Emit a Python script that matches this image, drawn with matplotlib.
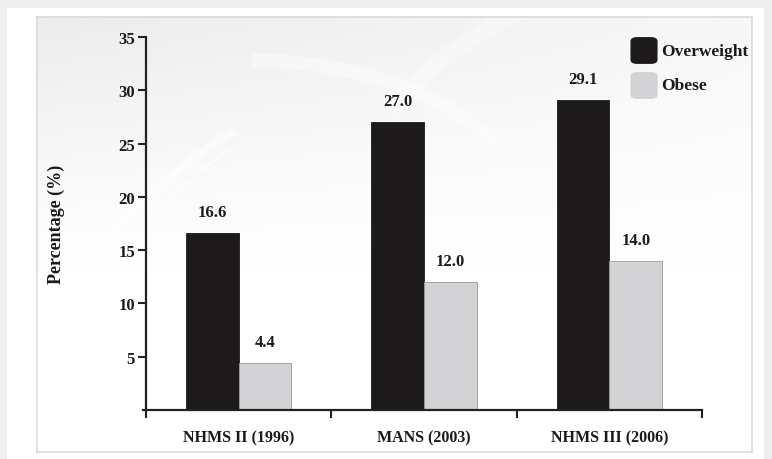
import numpy as np
import matplotlib
matplotlib.use("Agg")
import matplotlib.pyplot as plt
from matplotlib.patches import FancyBboxPatch, Rectangle, Arc

# Survey prevalence data
surveys = ["NHMS II (1996)", "MANS (2003)", "NHMS III (2006)"]
overweight = [16.6, 27.0, 29.1]
obese = [4.4, 12.0, 14.0]
series_names = ["Overweight", "Obese"]
y_ticks = [5, 10, 15, 20, 25, 30, 35]

DARK = "#1c1a1b"
LIGHT = "#d3d3d5"
FONT = "Liberation Serif"
INK = "#1a1a1a"

W, H = 772, 460
fig = plt.figure(figsize=(W / 100, H / 100), dpi=100)
fig.patch.set_facecolor("#efefef")

# outer white card (drawn beneath everything else)
fig.patches.append(Rectangle((7 / W, 0), 757 / W, 451 / H,
                             transform=fig.transFigure, facecolor="white",
                             edgecolor="none", zorder=-5))

# inner panel with soft gradient and faint swirls
bx0, by0, bx1, by1 = 37, 18, 752, 453
bg = fig.add_axes([bx0 / W, 1 - by1 / H, (bx1 - bx0) / W, (by1 - by0) / H],
                  zorder=0)
gx, gy = np.meshgrid(np.linspace(0, 1, 400), np.linspace(1, 0, 300))
tone = np.clip(1.0 - 0.075 * np.clip(1.7 * gy - 0.7, 0, 1) ** 1.2
               * (1 - 0.6 * gx), 0, 1)
bg.imshow(np.dstack([tone, tone, tone]), extent=[0, 1, 0, 1], aspect="auto",
          interpolation="bilinear")
for cx, cy, w, h, t1, t2, lw, a in [(0.62, -0.55, 1.5, 2.9, 105, 165, 6, 0.55),
                                    (0.66, -0.50, 1.5, 2.8, 108, 160, 2, 0.6),
                                    (0.30, 0.50, 0.8, 0.8, 30, 90, 10, 0.4),
                                    (1.05, 0.40, 1.3, 1.5, 100, 145, 12, 0.35)]:
    bg.add_patch(Arc((cx, cy), w, h, theta1=t1, theta2=t2, color="white",
                     lw=lw, alpha=a))
bg.set_xlim(0, 1)
bg.set_ylim(0, 1)
for s in bg.spines.values():
    s.set_edgecolor("#dadada")
    s.set_linewidth(1.2)
bg.set_xticks([])
bg.set_yticks([])

ax = fig.add_axes([146 / W, 1 - 411 / H, 556 / W, 373 / H], zorder=2)
ax.patch.set_visible(False)

centers = np.arange(len(surveys)) + 0.5
bw = 0.285
ax.bar(centers - bw / 2, overweight, bw, color=DARK, edgecolor=DARK, lw=0.6)
ax.bar(centers + bw / 2, obese, bw, color=LIGHT, edgecolor="#9a9a9a", lw=0.6)

for xs, vals in ((centers - bw / 2, overweight), (centers + bw / 2, obese)):
    for x, v in zip(xs, vals):
        ax.text(x, v + 1.2, f"{v:.1f}", ha="center", va="bottom", fontsize=12,
                fontweight="bold", family=FONT, color=INK)

ax.set_xlim(0, 3)
ax.set_ylim(0, 35)
ax.set_yticks(y_ticks)
ax.set_yticklabels([str(t) for t in y_ticks], family=FONT, fontweight="bold",
                   fontsize=12, color=INK)
ax.set_xticks([0, 1, 2, 3])
ax.set_xticklabels([])
ax.set_xticks(centers, minor=True)
ax.set_xticklabels(surveys, minor=True, family=FONT, fontweight="bold",
                   fontsize=11.5, color=INK)
ax.tick_params(axis="x", which="minor", length=0, pad=14)
ax.tick_params(axis="x", which="major", length=6, width=1.5, color="#222222")
ax.tick_params(axis="y", length=6, width=1.5, color="#222222", pad=2)
for side in ("top", "right"):
    ax.spines[side].set_visible(False)
for side in ("left", "bottom"):
    ax.spines[side].set_linewidth(1.6)
    ax.spines[side].set_color("#222222")
ax.spines["bottom"].set_bounds(-0.015, 3)

ax.set_ylabel("Percentage (%)", family=FONT, fontweight="bold", fontsize=13,
              color=INK)
ax.yaxis.set_label_coords(-0.146, 0.5)

# legend with rounded swatches
for i, (name, col) in enumerate(zip(series_names, [DARK, LIGHT])):
    yc = 1 - (51.5 + i * 35) / H
    fig.patches.append(FancyBboxPatch((632 / W, yc - 12.5 / H), 24 / W, 25 / H,
                                      boxstyle="round,pad=0.002,rounding_size=0.009",
                                      transform=fig.transFigure, facecolor=col,
                                      edgecolor="none", zorder=3))
    fig.text(661 / W, yc, name, family=FONT, fontweight="bold",
             fontsize=12.5, va="center", ha="left", color=INK)

fig.savefig("out.png", dpi=100, facecolor=fig.get_facecolor())
